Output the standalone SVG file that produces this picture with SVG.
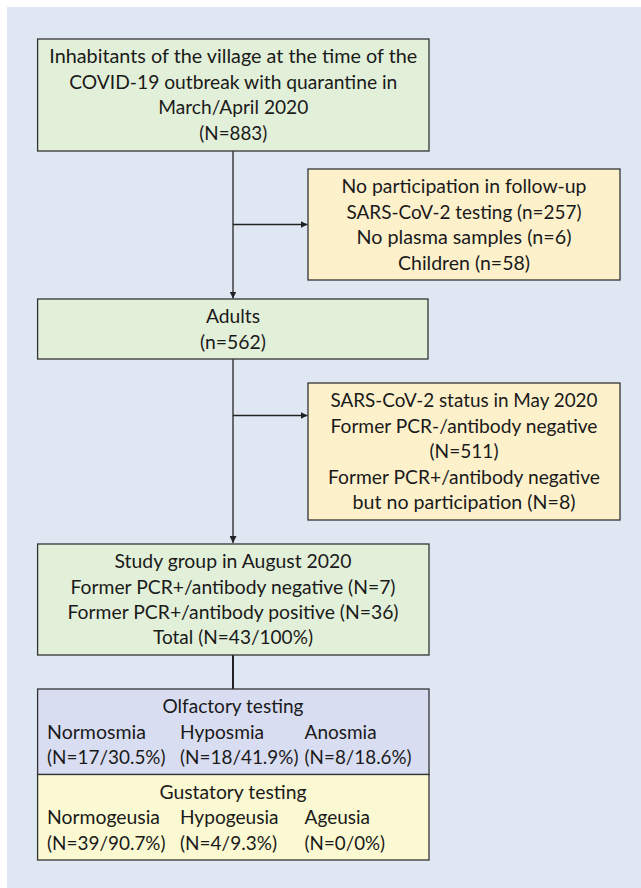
<svg xmlns="http://www.w3.org/2000/svg" width="641" height="888" viewBox="0 0 641 888">
<style>
.bx{stroke:#333;stroke-width:1.3}
.g{fill:#e3f0d9}.o{fill:#fdf1cc}.l{fill:#d9ddf2}.y{fill:#fbf9d1}
text{font-family:Lato,"Liberation Sans",Arial,sans-serif;font-size:18.5px;fill:#1a1a1a}
.c{text-anchor:middle}
.cn{stroke:#222;stroke-width:1.3;fill:none}
</style>
<defs>
<marker id="ah" viewBox="0 0 10 10" refX="10" refY="5" markerWidth="7" markerHeight="7" markerUnits="userSpaceOnUse" orient="auto"><path d="M0,0L10,5L0,10z" fill="#222"/></marker>
</defs>
<rect x="7" y="7" width="634" height="881" fill="#dfe8f2"/>
<g id="connectors">
<line class="cn" x1="233" y1="151" x2="233" y2="298.5" marker-end="url(#ah)"/>
<line class="cn" x1="233" y1="224.5" x2="307.5" y2="224.5" marker-end="url(#ah)"/>
<line class="cn" x1="233" y1="359" x2="233" y2="543" marker-end="url(#ah)"/>
<line class="cn" x1="233" y1="415.5" x2="307.5" y2="415.5" marker-end="url(#ah)"/>
<line x1="233" y1="655" x2="233" y2="689" stroke="#222" stroke-width="2"/>
</g>
<g id="inhabitants">
<rect class="bx g" x="37.6" y="39" width="391.4" height="112"/>
<text class="c" x="233.3" y="63" textLength="368" lengthAdjust="spacingAndGlyphs">Inhabitants of the village at the time of the</text>
<text class="c" x="233.3" y="89" textLength="328" lengthAdjust="spacingAndGlyphs">COVID-19 outbreak with quarantine in</text>
<text class="c" x="233.3" y="114" textLength="150" lengthAdjust="spacingAndGlyphs">March/April 2020</text>
<text class="c" x="233.3" y="140" textLength="68" lengthAdjust="spacingAndGlyphs">(N=883)</text>
</g>
<g id="excluded1">
<rect class="bx o" x="308" y="169" width="312" height="111"/>
<text class="c" x="464" y="193" textLength="245" lengthAdjust="spacingAndGlyphs">No participation in follow-up</text>
<text class="c" x="464" y="219" textLength="235" lengthAdjust="spacingAndGlyphs">SARS-CoV-2 testing (n=257)</text>
<text class="c" x="464" y="244" textLength="215" lengthAdjust="spacingAndGlyphs">No plasma samples (n=6)</text>
<text class="c" x="464" y="270" textLength="132" lengthAdjust="spacingAndGlyphs">Children (n=58)</text>
</g>
<g id="adults">
<rect class="bx g" x="37.6" y="299" width="390.4" height="60"/>
<text class="c" x="233" y="323" textLength="54" lengthAdjust="spacingAndGlyphs">Adults</text>
<text class="c" x="233" y="349" textLength="66" lengthAdjust="spacingAndGlyphs">(n=562)</text>
</g>
<g id="excluded2">
<rect class="bx o" x="308" y="383" width="312" height="137"/>
<text class="c" x="464" y="407" textLength="267" lengthAdjust="spacingAndGlyphs">SARS-CoV-2 status in May 2020</text>
<text class="c" x="464" y="433" textLength="267" lengthAdjust="spacingAndGlyphs">Former PCR-/antibody negative</text>
<text class="c" x="464" y="458" textLength="69" lengthAdjust="spacingAndGlyphs">(N=511)</text>
<text class="c" x="464" y="484" textLength="272" lengthAdjust="spacingAndGlyphs">Former PCR+/antibody negative</text>
<text class="c" x="464" y="509" textLength="223" lengthAdjust="spacingAndGlyphs">but no participation (N=8)</text>
</g>
<g id="study">
<rect class="bx g" x="37.6" y="544" width="391.4" height="111"/>
<text class="c" x="233" y="568" textLength="237" lengthAdjust="spacingAndGlyphs">Study group in August 2020</text>
<text class="c" x="233" y="594" textLength="325" lengthAdjust="spacingAndGlyphs">Former PCR+/antibody negative (N=7)</text>
<text class="c" x="233" y="619" textLength="331" lengthAdjust="spacingAndGlyphs">Former PCR+/antibody positive (N=36)</text>
<text class="c" x="233" y="644" textLength="160" lengthAdjust="spacingAndGlyphs">Total (N=43/100%)</text>
</g>
<g id="olfactory">
<rect class="bx l" x="37.6" y="689" width="391.4" height="85.5"/>
<text class="c" x="233" y="713" textLength="141" lengthAdjust="spacingAndGlyphs">Olfactory testing</text>
<text x="47" y="739" textLength="99" lengthAdjust="spacingAndGlyphs">Normosmia</text>
<text x="180" y="739" textLength="84" lengthAdjust="spacingAndGlyphs">Hyposmia</text>
<text x="304.6" y="739" textLength="72" lengthAdjust="spacingAndGlyphs">Anosmia</text>
<text x="47" y="764" textLength="118.6" lengthAdjust="spacingAndGlyphs">(N=17/30.5%)</text>
<text x="180" y="764" textLength="118.5" lengthAdjust="spacingAndGlyphs">(N=18/41.9%)</text>
<text x="304.6" y="764" textLength="107" lengthAdjust="spacingAndGlyphs">(N=8/18.6%)</text>
</g>
<g id="gustatory">
<rect class="bx y" x="37.6" y="774.5" width="391.4" height="85.5"/>
<text class="c" x="233" y="799" textLength="147" lengthAdjust="spacingAndGlyphs">Gustatory testing</text>
<text x="47" y="824" textLength="113" lengthAdjust="spacingAndGlyphs">Normogeusia</text>
<text x="180" y="824" textLength="98.5" lengthAdjust="spacingAndGlyphs">Hypogeusia</text>
<text x="304.6" y="824" textLength="65.4" lengthAdjust="spacingAndGlyphs">Ageusia</text>
<text x="47" y="850" textLength="118.6" lengthAdjust="spacingAndGlyphs">(N=39/90.7%)</text>
<text x="180" y="850" textLength="97" lengthAdjust="spacingAndGlyphs">(N=4/9.3%)</text>
<text x="304.6" y="850" textLength="80.5" lengthAdjust="spacingAndGlyphs">(N=0/0%)</text>
</g>
</svg>
